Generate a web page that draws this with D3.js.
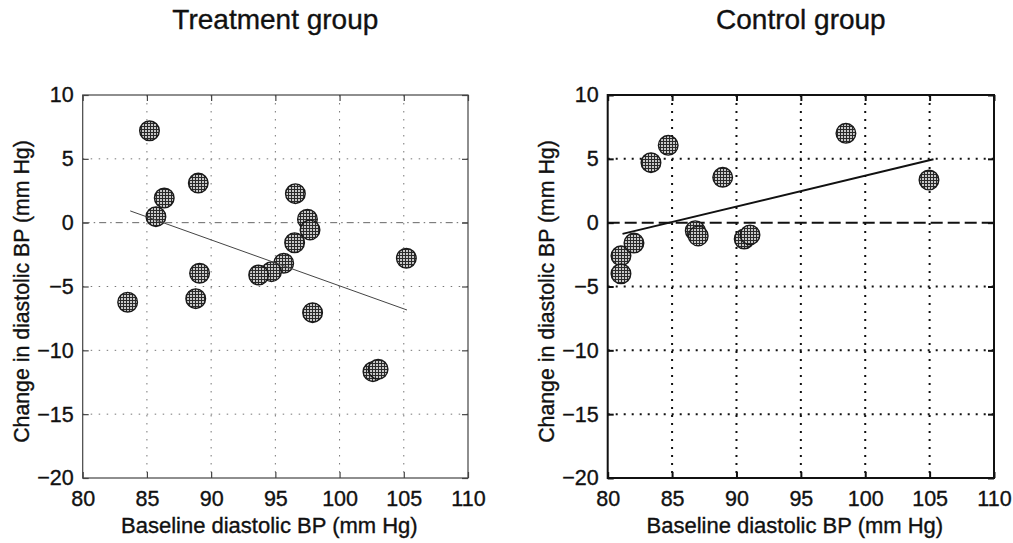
<!DOCTYPE html>
<html>
<head>
<meta charset="utf-8">
<script src="https://cdn.jsdelivr.net/npm/d3@7/dist/d3.min.js"></script>
<style>
  body { margin: 0; background: #fff; }
  svg { display: block; font-family: "Liberation Sans", Arial, sans-serif; }
  .lbl { fill: #111; stroke: #111; stroke-width: 0.35px; }
</style>
</head>
<body>
<div id="chart"></div>
<script>
// Treatment group: baseline vs change
const treatX = [85.2, 89.0, 86.35, 85.7, 96.56, 97.5, 97.7, 96.5, 95.65, 94.7, 93.7, 89.1, 88.8, 83.5, 97.9, 105.2, 102.6, 103.0];
const treatY = [7.2, 3.1, 1.93, 0.47, 2.27, 0.27, -0.57, -1.57, -3.18, -3.84, -4.1, -3.96, -5.95, -6.23, -7.05, -2.79, -11.67, -11.48];
const treatFitX = [83.7, 105.25];
const treatFitY = [0.92, -6.84];

// Control group
const ctrlX = [83.36, 84.7, 88.93, 98.5, 104.95, 81.03, 81.03, 82.04, 86.8, 87.03, 90.6, 91.05];
const ctrlY = [4.7, 6.06, 3.55, 7.0, 3.34, -2.6, -4.0, -1.6, -0.63, -1.04, -1.28, -0.96];
const ctrlFitX = [81.15, 105.3];
const ctrlFitY = [-0.88, 4.96];

const xTicks = [80, 85, 90, 95, 100, 105, 110];
const yTicks = [-20, -15, -10, -5, 0, 5, 10];

const width = 1013, height = 543;
const svg = d3.select("#chart").append("svg")
  .attr("width", width).attr("height", height);

// crosshatch fill for the markers
const defs = svg.append("defs");
const pat = defs.append("pattern")
  .attr("id", "hatch").attr("patternUnits", "userSpaceOnUse")
  .attr("width", 3).attr("height", 3);
pat.append("rect").attr("width", 3).attr("height", 3).attr("fill", "#c8c8c8");
pat.append("path").attr("d", "M0,0.5H3M0.5,0V3").attr("stroke", "#2a2a2a").attr("stroke-width", 1);

function panel(opts) {
  const { left, right, top, bottom, title, xs, ys, fitX, fitY, style } = opts;
  const g = svg.append("g");
  const x = d3.scaleLinear().domain([80, 110]).range([left, right]);
  const y = d3.scaleLinear().domain([-20, 10]).range([bottom, top]);

  // grid
  g.append("g").selectAll("line.gx")
    .data(xTicks.slice(1, -1)).join("line")
    .attr("x1", d => x(d)).attr("x2", d => x(d))
    .attr("y1", top).attr("y2", bottom)
    .attr("stroke", style.grid).attr("stroke-width", style.gridW)
    .attr("stroke-dasharray", style.gridDash);
  g.append("g").selectAll("line.gy")
    .data(yTicks.slice(1, -1).filter(d => d !== 0)).join("line")
    .attr("x1", left).attr("x2", right)
    .attr("y1", d => y(d)).attr("y2", d => y(d))
    .attr("stroke", style.grid).attr("stroke-width", style.gridW)
    .attr("stroke-dasharray", style.gridDash);

  // zero reference line
  g.append("line")
    .attr("x1", left).attr("x2", right)
    .attr("y1", y(0)).attr("y2", y(0))
    .attr("stroke", style.zero).attr("stroke-width", style.zeroW)
    .attr("stroke-dasharray", style.zeroDash);

  // axes with inward ticks
  const fmt = d3.format("d");
  const ax = g.append("g").attr("transform", `translate(0,${bottom})`)
    .call(d3.axisBottom(x).tickValues(xTicks).tickFormat(fmt).tickSize(-6).tickPadding(13));
  const ay = g.append("g").attr("transform", `translate(${left},0)`)
    .call(d3.axisLeft(y).tickValues(yTicks).tickFormat(fmt).tickSize(-6).tickPadding(9));
  const axT = g.append("g").attr("transform", `translate(0,${top})`)
    .call(d3.axisTop(x).tickValues(xTicks).tickFormat("").tickSize(-6));
  const ayR = g.append("g").attr("transform", `translate(${right},0)`)
    .call(d3.axisRight(y).tickValues(yTicks).tickFormat("").tickSize(-6));
  [ax, ay, axT, ayR].forEach(a => {
    a.select(".domain").remove();
    a.selectAll(".tick line").attr("stroke", style.frame).attr("stroke-width", style.frameW);
    a.selectAll("text").attr("class", "lbl").style("font-size", "21.5px")
      .style("font-family", "'Liberation Sans', Arial, sans-serif");
  });

  // frame
  g.append("rect")
    .attr("x", left).attr("y", top)
    .attr("width", right - left).attr("height", bottom - top)
    .attr("fill", "none").attr("stroke", style.frame).attr("stroke-width", style.frameW);

  // points
  g.append("g").selectAll("circle")
    .data(xs.map((v, i) => [v, ys[i]])).join("circle")
    .attr("cx", d => x(d[0])).attr("cy", d => y(d[1])).attr("r", 9.8)
    .attr("fill", "url(#hatch)").attr("stroke", "#1a1a1a").attr("stroke-width", 1.4);

  // fit line
  g.append("line")
    .attr("x1", x(fitX[0])).attr("y1", y(fitY[0]))
    .attr("x2", x(fitX[1])).attr("y2", y(fitY[1]))
    .attr("stroke", style.fit).attr("stroke-width", style.fitW);

  // titles and labels
  g.append("text").attr("class", "lbl")
    .attr("x", (left + right) / 2).attr("y", 29)
    .attr("text-anchor", "middle")
    .style("font-size", "28px").text(title);
  g.append("text").attr("class", "lbl")
    .attr("x", (left + right) / 2 - 6).attr("y", 533)
    .attr("text-anchor", "middle")
    .style("font-size", "22px").text("Baseline diastolic BP (mm Hg)");
  g.append("text").attr("class", "lbl")
    .attr("transform", `translate(${left - 54},${(top + bottom) / 2 + 5}) rotate(-90)`)
    .attr("text-anchor", "middle")
    .style("font-size", "21.3px").text("Change in diastolic BP (mm Hg)");
}

panel({
  left: 82.7, right: 468, top: 95, bottom: 478,
  title: "Treatment group", xs: treatX, ys: treatY, fitX: treatFitX, fitY: treatFitY,
  style: {
    grid: "#777", gridW: 1, gridDash: "1.5,6.5",
    zero: "#666", zeroW: 1, zeroDash: "7,4,1.5,4",
    fit: "#444", fitW: 1,
    frame: "#444", frameW: 1.2
  }
});

panel({
  left: 607.7, right: 994, top: 95, bottom: 478,
  title: "Control group", xs: ctrlX, ys: ctrlY, fitX: ctrlFitX, fitY: ctrlFitY,
  style: {
    grid: "#111", gridW: 2, gridDash: "2,6",
    zero: "#111", zeroW: 2, zeroDash: "12,5",
    fit: "#111", fitW: 2,
    frame: "#111", frameW: 2
  }
});
</script>
</body>
</html>
